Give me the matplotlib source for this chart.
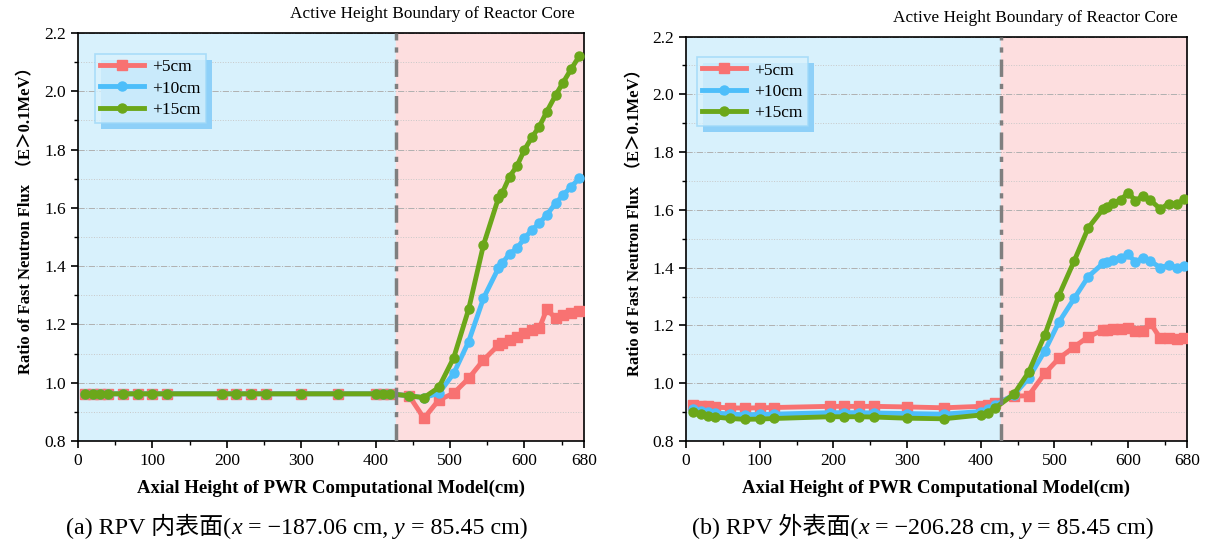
import matplotlib
matplotlib.use('Agg')
import matplotlib.pyplot as plt
from matplotlib.patches import Rectangle
import numpy as np

plt.rcParams['font.family'] = ['Liberation Serif', 'Noto Sans CJK SC']

# axial heights (cm)
x_a = [10, 20, 30, 40, 60, 80, 100, 120, 193, 213, 233, 253, 300, 350, 400, 410, 420,
       445, 465, 485, 505, 525, 545, 565, 570, 580, 590, 600, 610, 620, 630, 642, 652, 663, 674]
x_b = [10, 20, 30, 40, 60, 80, 100, 120, 195, 215, 235, 255, 300, 350, 400, 410, 420,
       445, 465, 487, 506, 527, 546, 566, 571, 580, 590, 600, 610, 620, 630, 644, 655, 666, 676]

# (a) inner surface
a_5 = [0.962] * 17 + [0.955, 0.878, 0.941, 0.964, 1.015, 1.078, 1.129, 1.137, 1.147, 1.158,
                      1.170, 1.181, 1.187, 1.252, 1.221, 1.232, 1.240, 1.247]
a_10 = [0.962] * 17 + [0.955, 0.949, 0.964, 1.032, 1.141, 1.290, 1.393, 1.410, 1.442, 1.461,
                       1.496, 1.524, 1.547, 1.576, 1.616, 1.644, 1.673, 1.702]
a_15 = [0.962] * 17 + [0.955, 0.949, 0.984, 1.086, 1.252, 1.473, 1.633, 1.650, 1.707, 1.744,
                       1.799, 1.842, 1.879, 1.930, 1.987, 2.030, 2.077, 2.122]

# (b) outer surface
b_5 = [0.925, 0.922, 0.920, 0.917, 0.915, 0.914, 0.915, 0.916, 0.920, 0.920, 0.920, 0.920,
       0.918, 0.915, 0.920, 0.925, 0.932,
       0.955, 0.957, 1.034, 1.086, 1.126, 1.161, 1.184, 1.186, 1.188, 1.189, 1.190, 1.182,
       1.181, 1.209, 1.155, 1.155, 1.153, 1.155]
b_10 = [0.910, 0.905, 0.900, 0.897, 0.893, 0.891, 0.892, 0.893, 0.898, 0.898, 0.898, 0.897,
        0.895, 0.893, 0.902, 0.910, 0.925,
        0.960, 1.017, 1.112, 1.211, 1.294, 1.369, 1.415, 1.420, 1.426, 1.434, 1.446, 1.420,
        1.434, 1.423, 1.400, 1.409, 1.400, 1.405]
b_15 = [0.900, 0.893, 0.888, 0.883, 0.878, 0.875, 0.876, 0.878, 0.884, 0.884, 0.884, 0.883,
        0.879, 0.877, 0.890, 0.898, 0.915,
        0.962, 1.038, 1.167, 1.303, 1.424, 1.538, 1.603, 1.611, 1.625, 1.634, 1.660, 1.632,
        1.648, 1.634, 1.603, 1.622, 1.620, 1.636]

labels = ['+5cm', '+10cm', '+15cm']
colors = ['#F87272', '#4DBEFA', '#6BA71A']
markers = ['s', 'o', 'o']
boundary = 427
captions = [[('(a) RPV 内表面(', 'normal'), ('x', 'italic'), (' = −187.06 cm, ', 'normal'),
             ('y', 'italic'), (' = 85.45 cm)', 'normal')],
            [('(b) RPV 外表面(', 'normal'), ('x', 'italic'), (' = −206.28 cm, ', 'normal'),
             ('y', 'italic'), (' = 85.45 cm)', 'normal')]]
caption_x = [0.055, 0.572]
legend_anchor = [(0.034, 0.949), (0.022, 0.949)]

fig = plt.figure(figsize=(12.09, 5.40), dpi=100)
axes = [fig.add_axes([0.0645, 0.1833, 0.4185, 0.7556]),
        fig.add_axes([0.5674, 0.1833, 0.4144, 0.749])]

legends = []
for k, (ax, xs, ys) in enumerate(zip(axes, [x_a, x_b], [[a_5, a_10, a_15], [b_5, b_10, b_15]])):
    ax.axvspan(0, boundary, color='#D8F1FC', zorder=0)
    ax.axvspan(boundary, 680, color='#FDDEDF', zorder=0)
    for y, lab, c, m in zip(ys, labels, colors, markers):
        ax.plot(xs, y, color=c, marker=m, lw=3.5, ms=6.5, label=lab, zorder=3)
    ax.axvline(boundary, color='#7F7F7F', ls=(0, (5, 2, 1.5, 2)), lw=2.5, zorder=4)
    ax.set_xlim(0, 680)
    ax.set_ylim(0.8, 2.2)
    ax.set_xticks([0, 100, 200, 300, 400, 500, 600, 680])
    ax.set_xticks(np.arange(50, 680, 100), minor=True)
    ax.set_yticks(np.arange(0.8, 2.21, 0.2))
    ax.set_yticks(np.arange(0.9, 2.2, 0.2), minor=True)
    ax.yaxis.set_major_formatter(matplotlib.ticker.FormatStrFormatter('%.1f'))
    ax.grid(axis='y', which='major', color='#B0B0B0', ls='-.', lw=0.7, zorder=1)
    ax.grid(axis='y', which='minor', color='#C8C8C8', ls=':', lw=0.7, zorder=1)
    ax.tick_params(labelsize=12.5, direction='out', length=5, width=1.2)
    ax.tick_params(which='minor', length=3, width=1)
    for s in ax.spines.values():
        s.set_linewidth(1.2)
    ax.set_xlabel('Axial Height of PWR Computational Model(cm)', fontsize=13.5,
                  fontweight='bold', labelpad=8)
    ax.set_ylabel('Ratio of Fast Neutron Flux  （E＞0.1MeV）', fontsize=12,
                  fontweight='bold')
    ax.yaxis.set_label_coords(-0.086, 0.55)
    ax.text(0.982, 1.037, 'Active Height Boundary of Reactor Core', transform=ax.transAxes,
            ha='right', va='baseline', fontsize=12.4)
    leg = ax.legend(loc='upper left', bbox_to_anchor=legend_anchor[k], borderaxespad=0,
                    fontsize=12.5, frameon=True, fancybox=False, handlelength=2.5,
                    handletextpad=0.5, borderpad=0.3, labelspacing=0.3)
    leg.get_frame().set_facecolor('#D8F1FC')
    leg.get_frame().set_edgecolor('#9ED8F8')
    leg.get_frame().set_linewidth(1.2)
    leg.set_zorder(6)
    legends.append(leg)

    # caption built from pieces so the italic x / y can sit next to the CJK text
    t = fig.text(caption_x[k], 0.011, captions[k][0][0], fontsize=17.3, va='baseline')
    for s, st in captions[k][1:]:
        t = ax.annotate(s, xycoords=t, xy=(1, 0), va='bottom', fontsize=17.3, style=st,
                        annotation_clip=False)

# offset shadow behind legends
fig.canvas.draw()
for ax, leg in zip(axes, legends):
    bb = leg.get_window_extent()
    shadow = Rectangle((bb.x0 + 6, bb.y0 - 6), bb.width, bb.height, transform=None,
                       facecolor='#8ED0F8', edgecolor='none', zorder=5)
    ax.add_artist(shadow)

plt.savefig('out.png', dpi=100)
